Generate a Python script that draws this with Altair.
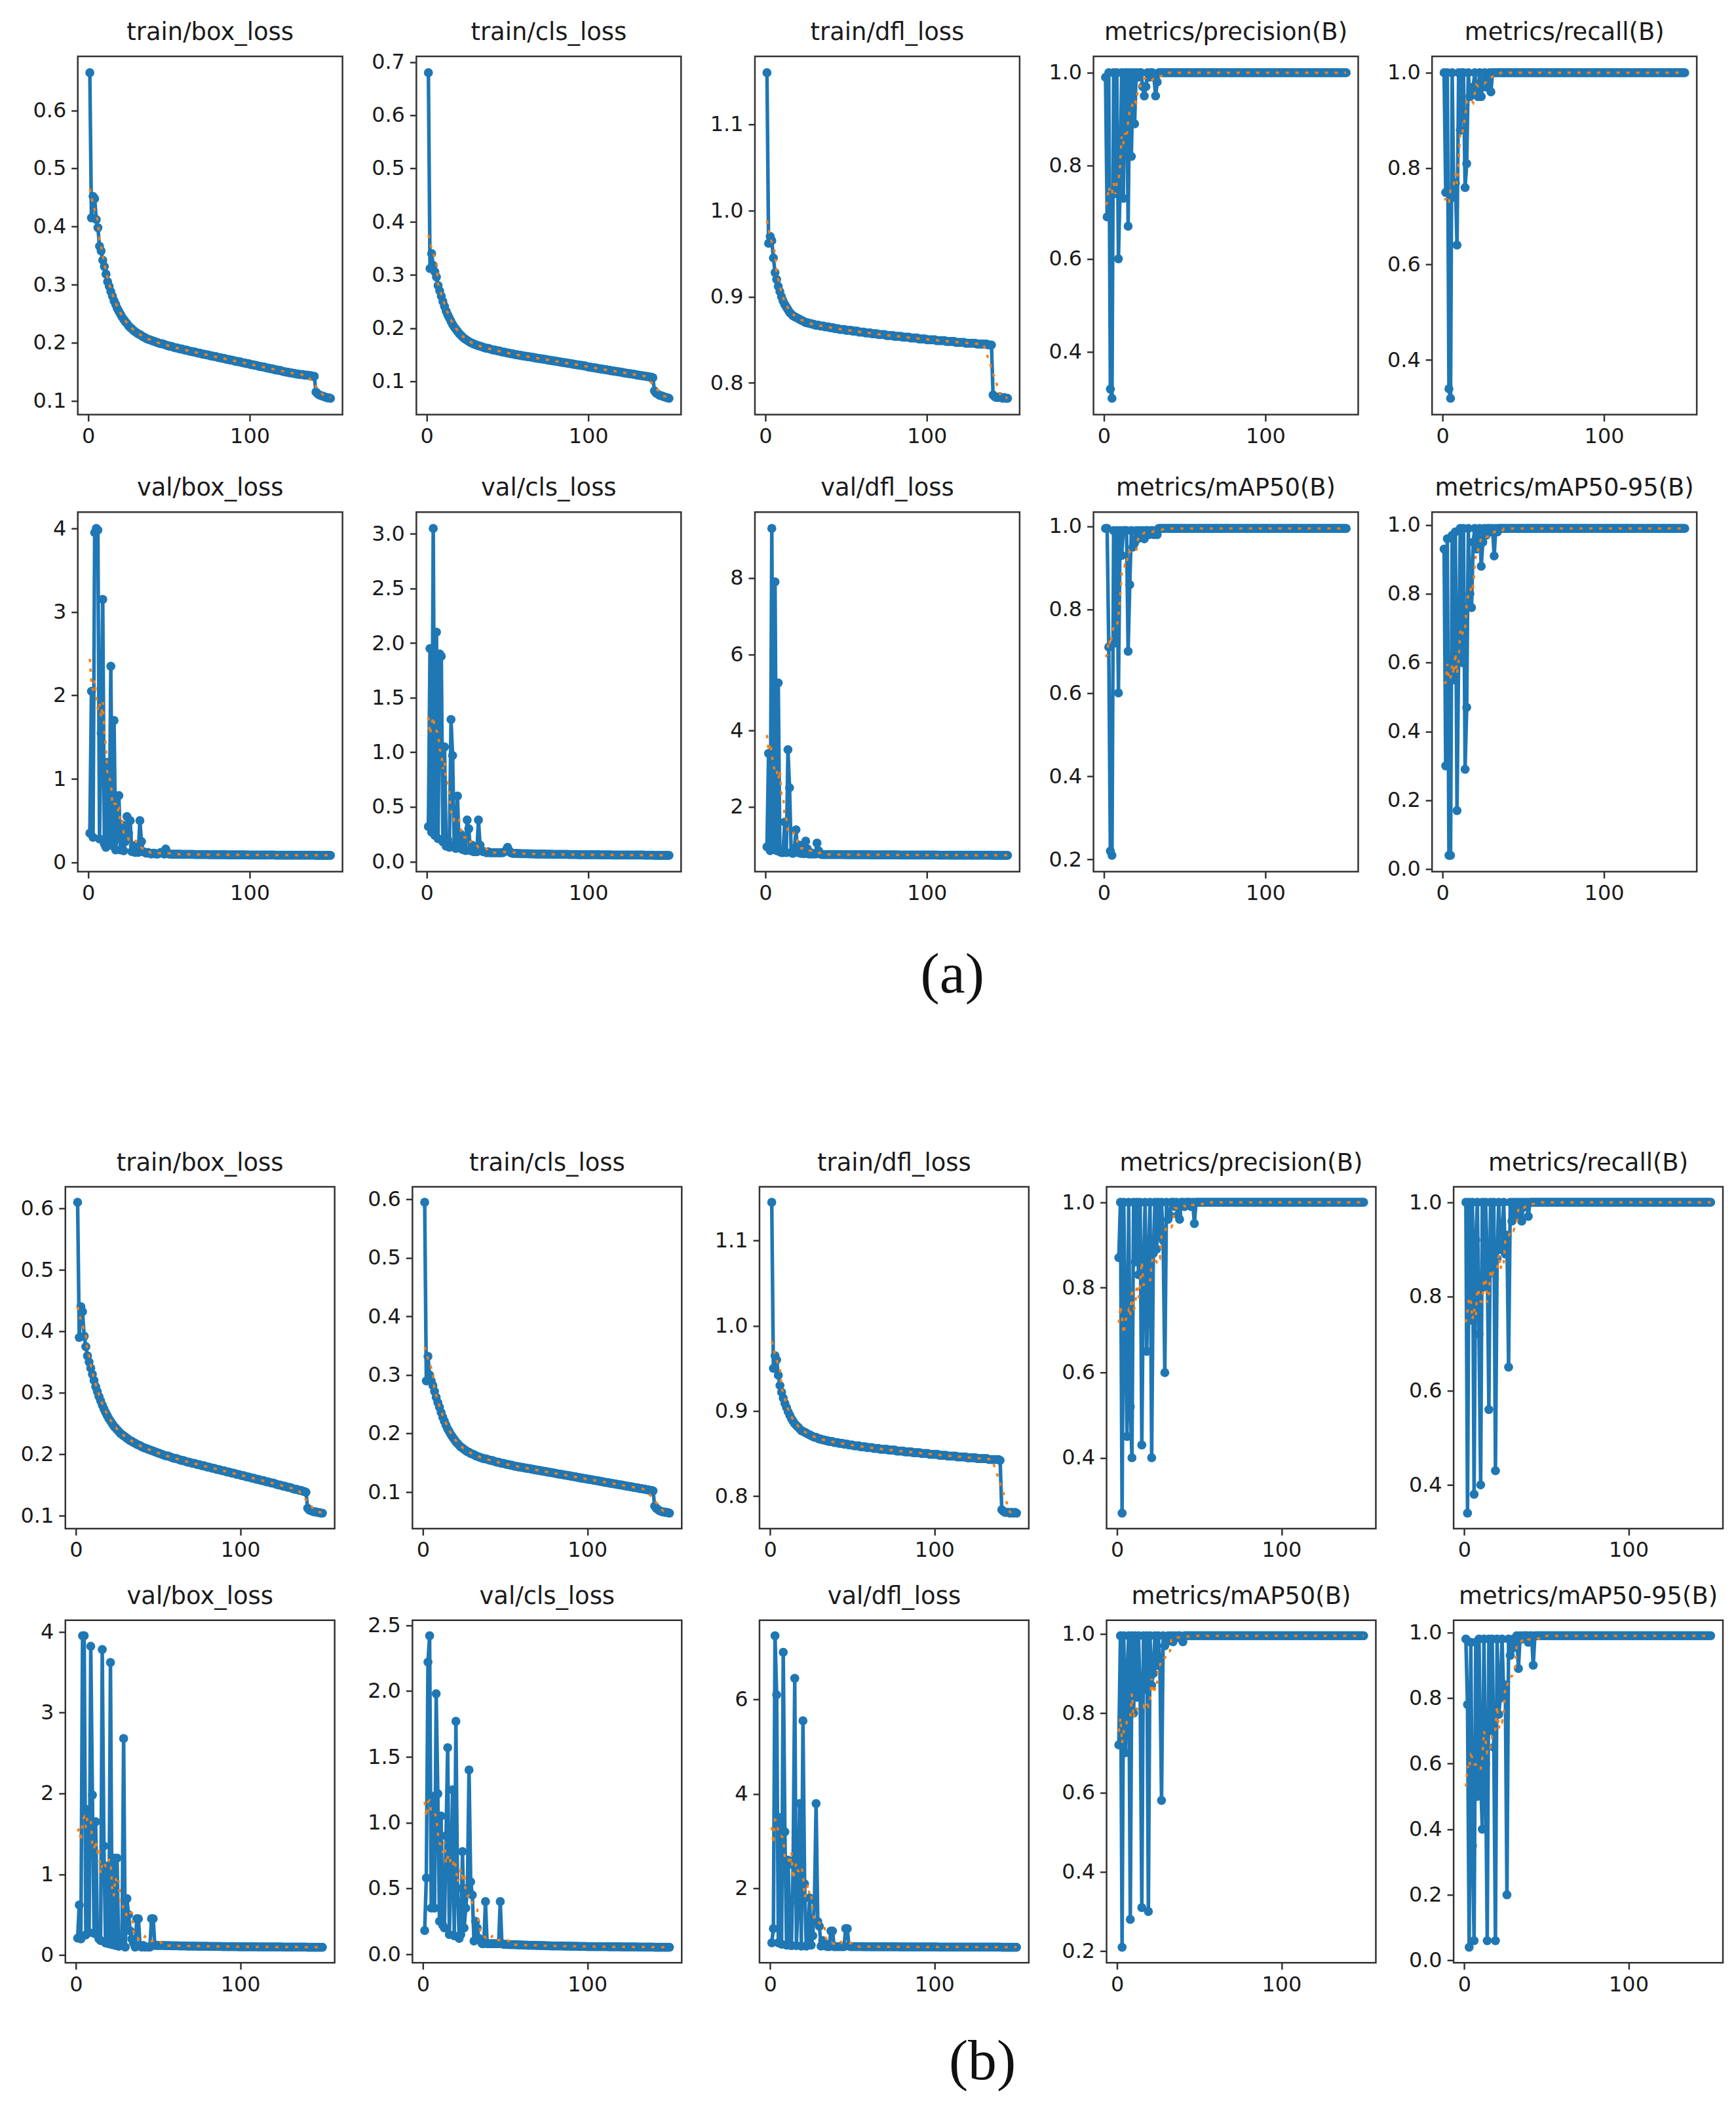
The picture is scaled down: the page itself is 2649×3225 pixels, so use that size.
import altair as alt
import pandas as pd

EPOCHS = list(range(1, 151))

# ---------------- group (a) ----------------
A_TRAIN_BOX = [
    0.665, 0.415, 0.452, 0.448, 0.412, 0.398, 0.366, 0.358, 0.342, 0.331,
    0.318, 0.305, 0.297, 0.288, 0.280, 0.272, 0.266, 0.259, 0.254, 0.249,
    0.244, 0.240, 0.236, 0.233, 0.229, 0.226, 0.224, 0.221, 0.219, 0.217,
    0.215, 0.214, 0.212, 0.210, 0.209, 0.207, 0.206, 0.205, 0.204, 0.203,
    0.202, 0.201, 0.200, 0.199, 0.198, 0.198, 0.197, 0.196, 0.195, 0.194,
    0.194, 0.193, 0.192, 0.191, 0.191, 0.190, 0.189, 0.189, 0.188, 0.187,
    0.187, 0.186, 0.185, 0.185, 0.184, 0.184, 0.183, 0.182, 0.182, 0.181,
    0.180, 0.180, 0.179, 0.179, 0.178, 0.177, 0.177, 0.176, 0.176, 0.175,
    0.174, 0.174, 0.173, 0.173, 0.172, 0.171, 0.171, 0.170, 0.170, 0.169,
    0.168, 0.168, 0.167, 0.167, 0.166, 0.165, 0.165, 0.164, 0.164, 0.163,
    0.162, 0.162, 0.161, 0.161, 0.160, 0.159, 0.159, 0.158, 0.158, 0.157,
    0.156, 0.156, 0.155, 0.155, 0.154, 0.153, 0.153, 0.152, 0.152, 0.151,
    0.150, 0.150, 0.149, 0.149, 0.148, 0.148, 0.147, 0.147, 0.146, 0.146,
    0.145, 0.145, 0.145, 0.144, 0.144, 0.144, 0.143, 0.143, 0.142, 0.142,
    0.115, 0.112, 0.110, 0.109, 0.108, 0.107, 0.106, 0.105, 0.105, 0.104,
]
A_TRAIN_CLS = [
    0.680, 0.312, 0.340, 0.318, 0.306, 0.296, 0.280, 0.270, 0.260, 0.250,
    0.241, 0.232, 0.225, 0.219, 0.213, 0.207, 0.202, 0.198, 0.194, 0.190,
    0.187, 0.184, 0.181, 0.179, 0.177, 0.175, 0.173, 0.172, 0.170, 0.169,
    0.168, 0.167, 0.166, 0.165, 0.164, 0.163, 0.162, 0.162, 0.161, 0.160,
    0.159, 0.159, 0.158, 0.157, 0.157, 0.156, 0.155, 0.155, 0.154, 0.153,
    0.153, 0.152, 0.152, 0.151, 0.150, 0.150, 0.149, 0.149, 0.148, 0.148,
    0.147, 0.147, 0.146, 0.146, 0.145, 0.145, 0.144, 0.144, 0.143, 0.143,
    0.142, 0.142, 0.141, 0.141, 0.140, 0.140, 0.139, 0.139, 0.138, 0.138,
    0.137, 0.137, 0.136, 0.136, 0.135, 0.135, 0.134, 0.134, 0.133, 0.133,
    0.132, 0.132, 0.131, 0.131, 0.130, 0.130, 0.129, 0.129, 0.128, 0.127,
    0.127, 0.126, 0.126, 0.125, 0.125, 0.124, 0.124, 0.123, 0.123, 0.122,
    0.122, 0.121, 0.121, 0.120, 0.120, 0.119, 0.119, 0.118, 0.118, 0.117,
    0.117, 0.116, 0.116, 0.115, 0.115, 0.114, 0.114, 0.113, 0.113, 0.112,
    0.112, 0.111, 0.111, 0.110, 0.110, 0.109, 0.109, 0.108, 0.108, 0.107,
    0.082, 0.078, 0.076, 0.074, 0.073, 0.072, 0.071, 0.070, 0.069, 0.068,
]
A_TRAIN_DFL = [
    1.160, 0.962, 0.970, 0.965, 0.945, 0.928, 0.920, 0.912, 0.906, 0.900,
    0.895, 0.891, 0.888, 0.885, 0.882, 0.880, 0.878, 0.877, 0.876, 0.875,
    0.874, 0.873, 0.872, 0.871, 0.870, 0.870, 0.869, 0.869, 0.868, 0.868,
    0.867, 0.867, 0.867, 0.866, 0.866, 0.866, 0.865, 0.865, 0.865, 0.864,
    0.864, 0.864, 0.863, 0.863, 0.863, 0.862, 0.862, 0.862, 0.862, 0.861,
    0.861, 0.861, 0.861, 0.860, 0.860, 0.860, 0.860, 0.859, 0.859, 0.859,
    0.859, 0.858, 0.858, 0.858, 0.858, 0.857, 0.857, 0.857, 0.857, 0.856,
    0.856, 0.856, 0.856, 0.856, 0.855, 0.855, 0.855, 0.855, 0.855, 0.854,
    0.854, 0.854, 0.854, 0.854, 0.853, 0.853, 0.853, 0.853, 0.853, 0.852,
    0.852, 0.852, 0.852, 0.852, 0.851, 0.851, 0.851, 0.851, 0.851, 0.850,
    0.850, 0.850, 0.850, 0.850, 0.850, 0.849, 0.849, 0.849, 0.849, 0.849,
    0.849, 0.848, 0.848, 0.848, 0.848, 0.848, 0.848, 0.847, 0.847, 0.847,
    0.847, 0.847, 0.847, 0.846, 0.846, 0.846, 0.846, 0.846, 0.846, 0.846,
    0.845, 0.845, 0.845, 0.845, 0.845, 0.845, 0.845, 0.844, 0.844, 0.844,
    0.786, 0.784, 0.783, 0.783, 0.784, 0.783, 0.782, 0.783, 0.782, 0.782,
]
A_PRECISION = [
    0.99, 0.69, 1.0, 0.32, 0.30, 1.0, 0.74, 1.0, 0.60, 0.75,
    1.0, 0.73, 1.0, 1.0, 0.67, 1.0, 0.82, 1.0, 0.89, 1.0,
    0.99, 1.0, 1.0, 0.97, 0.95, 0.97, 1.0, 0.99, 1.0, 1.0,
    0.99, 0.95, 0.98, 1.0, 1.0, 1.0, 1.0, 1.0, 1.0, 1.0,
    1.0, 1.0, 1.0, 1.0, 1.0, 1.0, 1.0, 1.0, 1.0, 1.0,
    1.0, 1.0, 1.0, 1.0, 1.0, 1.0, 1.0, 1.0, 1.0, 1.0,
    1.0, 1.0, 1.0, 1.0, 1.0, 1.0, 1.0, 1.0, 1.0, 1.0,
    1.0, 1.0, 1.0, 1.0, 1.0, 1.0, 1.0, 1.0, 1.0, 1.0,
    1.0, 1.0, 1.0, 1.0, 1.0, 1.0, 1.0, 1.0, 1.0, 1.0,
    1.0, 1.0, 1.0, 1.0, 1.0, 1.0, 1.0, 1.0, 1.0, 1.0,
    1.0, 1.0, 1.0, 1.0, 1.0, 1.0, 1.0, 1.0, 1.0, 1.0,
    1.0, 1.0, 1.0, 1.0, 1.0, 1.0, 1.0, 1.0, 1.0, 1.0,
    1.0, 1.0, 1.0, 1.0, 1.0, 1.0, 1.0, 1.0, 1.0, 1.0,
    1.0, 1.0, 1.0, 1.0, 1.0, 1.0, 1.0, 1.0, 1.0, 1.0,
    1.0, 1.0, 1.0, 1.0, 1.0, 1.0, 1.0, 1.0, 1.0, 1.0,
]
A_RECALL = [
    1.0, 0.75, 1.0, 0.34, 0.32, 1.0, 0.74, 0.77, 0.64, 1.0,
    0.88, 1.0, 1.0, 0.76, 0.81, 1.0, 0.95, 0.96, 0.97, 1.0,
    0.96, 0.95, 1.0, 0.95, 0.98, 1.0, 0.97, 0.98, 1.0, 0.96,
    1.0, 1.0, 1.0, 1.0, 1.0, 1.0, 1.0, 1.0, 1.0, 1.0,
    1.0, 1.0, 1.0, 1.0, 1.0, 1.0, 1.0, 1.0, 1.0, 1.0,
    1.0, 1.0, 1.0, 1.0, 1.0, 1.0, 1.0, 1.0, 1.0, 1.0,
    1.0, 1.0, 1.0, 1.0, 1.0, 1.0, 1.0, 1.0, 1.0, 1.0,
    1.0, 1.0, 1.0, 1.0, 1.0, 1.0, 1.0, 1.0, 1.0, 1.0,
    1.0, 1.0, 1.0, 1.0, 1.0, 1.0, 1.0, 1.0, 1.0, 1.0,
    1.0, 1.0, 1.0, 1.0, 1.0, 1.0, 1.0, 1.0, 1.0, 1.0,
    1.0, 1.0, 1.0, 1.0, 1.0, 1.0, 1.0, 1.0, 1.0, 1.0,
    1.0, 1.0, 1.0, 1.0, 1.0, 1.0, 1.0, 1.0, 1.0, 1.0,
    1.0, 1.0, 1.0, 1.0, 1.0, 1.0, 1.0, 1.0, 1.0, 1.0,
    1.0, 1.0, 1.0, 1.0, 1.0, 1.0, 1.0, 1.0, 1.0, 1.0,
    1.0, 1.0, 1.0, 1.0, 1.0, 1.0, 1.0, 1.0, 1.0, 1.0,
]
A_VAL_BOX = [
    0.35, 2.05, 0.30, 3.95, 4.00, 3.98, 0.28, 1.55, 3.15, 0.22,
    0.18, 1.20, 0.25, 2.35, 0.20, 1.70, 0.15, 0.30, 0.80, 0.15,
    0.45, 0.14, 0.25, 0.55, 0.35, 0.50, 0.13, 0.20, 0.12, 0.15,
    0.12, 0.50, 0.25, 0.13, 0.12, 0.11, 0.12, 0.11, 0.10, 0.11,
    0.11, 0.10, 0.10, 0.11, 0.12, 0.11, 0.10, 0.16, 0.11, 0.10,
    0.100, 0.099, 0.099, 0.099, 0.098, 0.098, 0.098, 0.097, 0.097, 0.097,
    0.097, 0.096, 0.096, 0.096, 0.096, 0.095, 0.095, 0.095, 0.095, 0.094,
    0.094, 0.094, 0.094, 0.094, 0.093, 0.093, 0.093, 0.093, 0.093, 0.092,
    0.092, 0.092, 0.092, 0.092, 0.092, 0.091, 0.091, 0.091, 0.091, 0.091,
    0.091, 0.090, 0.090, 0.090, 0.090, 0.090, 0.090, 0.090, 0.089, 0.089,
    0.089, 0.089, 0.089, 0.089, 0.089, 0.089, 0.088, 0.088, 0.088, 0.088,
    0.088, 0.088, 0.088, 0.088, 0.088, 0.087, 0.087, 0.087, 0.087, 0.087,
    0.087, 0.087, 0.087, 0.087, 0.087, 0.087, 0.086, 0.086, 0.086, 0.086,
    0.086, 0.086, 0.086, 0.086, 0.086, 0.086, 0.086, 0.086, 0.086, 0.086,
    0.085, 0.085, 0.085, 0.085, 0.085, 0.085, 0.085, 0.085, 0.085, 0.085,
]
A_VAL_CLS = [
    0.32, 1.95, 0.27, 3.05, 0.24, 2.10, 0.21, 1.90, 1.88, 0.18,
    1.05, 0.14, 0.20, 0.13, 1.30, 0.97, 0.15, 0.12, 0.60, 0.14,
    0.25, 0.11, 0.20, 0.10, 0.38, 0.30, 0.10, 0.15, 0.09, 0.10,
    0.09, 0.38, 0.15, 0.10, 0.09, 0.09, 0.08, 0.09, 0.08, 0.08,
    0.08, 0.08, 0.08, 0.08, 0.08, 0.08, 0.08, 0.09, 0.10, 0.13,
    0.100, 0.080, 0.075, 0.075, 0.074, 0.074, 0.073, 0.073, 0.072, 0.072,
    0.071, 0.071, 0.071, 0.070, 0.070, 0.070, 0.069, 0.069, 0.069, 0.068,
    0.068, 0.068, 0.068, 0.067, 0.067, 0.067, 0.067, 0.066, 0.066, 0.066,
    0.066, 0.066, 0.065, 0.065, 0.065, 0.065, 0.065, 0.064, 0.064, 0.064,
    0.064, 0.064, 0.064, 0.063, 0.063, 0.063, 0.063, 0.063, 0.063, 0.062,
    0.062, 0.062, 0.062, 0.062, 0.062, 0.062, 0.061, 0.061, 0.061, 0.061,
    0.061, 0.061, 0.061, 0.061, 0.060, 0.060, 0.060, 0.060, 0.060, 0.060,
    0.060, 0.060, 0.060, 0.059, 0.059, 0.059, 0.059, 0.059, 0.059, 0.059,
    0.059, 0.059, 0.059, 0.059, 0.058, 0.058, 0.058, 0.058, 0.058, 0.058,
    0.057, 0.057, 0.057, 0.057, 0.057, 0.057, 0.057, 0.057, 0.057, 0.057,
]
A_VAL_DFL = [
    0.95, 3.40, 0.85, 9.30, 0.90, 7.90, 0.85, 5.25, 0.82, 0.80,
    0.80, 1.60, 0.80, 3.50, 2.50, 0.80, 0.78, 0.90, 1.40, 0.80,
    1.00, 0.78, 0.85, 0.77, 1.10, 0.90, 0.76, 0.80, 0.76, 0.77,
    0.76, 1.05, 0.85, 0.76, 0.75, 0.75, 0.75, 0.75, 0.75, 0.75,
    0.750, 0.750, 0.749, 0.749, 0.748, 0.748, 0.748, 0.747, 0.747, 0.747,
    0.746, 0.746, 0.746, 0.745, 0.745, 0.745, 0.744, 0.744, 0.744, 0.744,
    0.743, 0.743, 0.743, 0.743, 0.742, 0.742, 0.742, 0.742, 0.741, 0.741,
    0.741, 0.741, 0.740, 0.740, 0.740, 0.740, 0.740, 0.739, 0.739, 0.739,
    0.739, 0.739, 0.738, 0.738, 0.738, 0.738, 0.738, 0.737, 0.737, 0.737,
    0.737, 0.737, 0.737, 0.736, 0.736, 0.736, 0.736, 0.736, 0.736, 0.735,
    0.735, 0.735, 0.735, 0.735, 0.735, 0.735, 0.734, 0.734, 0.734, 0.734,
    0.734, 0.734, 0.734, 0.734, 0.733, 0.733, 0.733, 0.733, 0.733, 0.733,
    0.733, 0.733, 0.733, 0.732, 0.732, 0.732, 0.732, 0.732, 0.732, 0.732,
    0.732, 0.732, 0.732, 0.732, 0.731, 0.731, 0.731, 0.731, 0.731, 0.731,
    0.729, 0.729, 0.729, 0.729, 0.729, 0.729, 0.729, 0.729, 0.729, 0.729,
]
A_MAP50 = [
    0.995, 0.995, 0.71, 0.22, 0.21, 0.99, 0.72, 0.99, 0.60, 0.99,
    0.93, 0.99, 0.99, 0.99, 0.70, 0.86, 0.99, 0.95, 0.96, 0.99,
    0.97, 0.99, 0.98, 0.99, 0.97, 0.99, 0.99, 0.98, 0.99, 0.99,
    0.98, 0.99, 0.98, 0.995, 0.995, 0.995, 0.995, 0.995, 0.995, 0.995,
    0.995, 0.995, 0.995, 0.995, 0.995, 0.995, 0.995, 0.995, 0.995, 0.995,
    0.995, 0.995, 0.995, 0.995, 0.995, 0.995, 0.995, 0.995, 0.995, 0.995,
    0.995, 0.995, 0.995, 0.995, 0.995, 0.995, 0.995, 0.995, 0.995, 0.995,
    0.995, 0.995, 0.995, 0.995, 0.995, 0.995, 0.995, 0.995, 0.995, 0.995,
    0.995, 0.995, 0.995, 0.995, 0.995, 0.995, 0.995, 0.995, 0.995, 0.995,
    0.995, 0.995, 0.995, 0.995, 0.995, 0.995, 0.995, 0.995, 0.995, 0.995,
    0.995, 0.995, 0.995, 0.995, 0.995, 0.995, 0.995, 0.995, 0.995, 0.995,
    0.995, 0.995, 0.995, 0.995, 0.995, 0.995, 0.995, 0.995, 0.995, 0.995,
    0.995, 0.995, 0.995, 0.995, 0.995, 0.995, 0.995, 0.995, 0.995, 0.995,
    0.995, 0.995, 0.995, 0.995, 0.995, 0.995, 0.995, 0.995, 0.995, 0.995,
    0.995, 0.995, 0.995, 0.995, 0.995, 0.995, 0.995, 0.995, 0.995, 0.995,
]
A_MAP5095 = [
    0.93, 0.30, 0.96, 0.04, 0.04, 0.97, 0.55, 0.98, 0.17, 0.62,
    0.99, 0.60, 0.99, 0.29, 0.47, 0.99, 0.80, 0.76, 0.95, 0.99,
    0.93, 0.98, 0.99, 0.88, 0.95, 0.99, 0.97, 0.99, 0.99, 0.98,
    0.99, 0.91, 0.99, 0.98, 0.99, 0.99, 0.99, 0.99, 0.99, 0.99,
    0.99, 0.99, 0.99, 0.99, 0.99, 0.99, 0.99, 0.99, 0.99, 0.99,
    0.99, 0.99, 0.99, 0.99, 0.99, 0.99, 0.99, 0.99, 0.99, 0.99,
    0.99, 0.99, 0.99, 0.99, 0.99, 0.99, 0.99, 0.99, 0.99, 0.99,
    0.99, 0.99, 0.99, 0.99, 0.99, 0.99, 0.99, 0.99, 0.99, 0.99,
    0.99, 0.99, 0.99, 0.99, 0.99, 0.99, 0.99, 0.99, 0.99, 0.99,
    0.99, 0.99, 0.99, 0.99, 0.99, 0.99, 0.99, 0.99, 0.99, 0.99,
    0.99, 0.99, 0.99, 0.99, 0.99, 0.99, 0.99, 0.99, 0.99, 0.99,
    0.99, 0.99, 0.99, 0.99, 0.99, 0.99, 0.99, 0.99, 0.99, 0.99,
    0.99, 0.99, 0.99, 0.99, 0.99, 0.99, 0.99, 0.99, 0.99, 0.99,
    0.99, 0.99, 0.99, 0.99, 0.99, 0.99, 0.99, 0.99, 0.99, 0.99,
    0.99, 0.99, 0.99, 0.99, 0.99, 0.99, 0.99, 0.99, 0.99, 0.99,
]

# ---------------- group (b) ----------------
B_TRAIN_BOX = [
    0.610, 0.390, 0.440, 0.432, 0.392, 0.375, 0.360, 0.350, 0.340, 0.330,
    0.320, 0.310, 0.302, 0.294, 0.287, 0.280, 0.274, 0.268, 0.263, 0.258,
    0.254, 0.250, 0.246, 0.243, 0.240, 0.237, 0.234, 0.232, 0.230, 0.228,
    0.226, 0.224, 0.222, 0.221, 0.219, 0.218, 0.216, 0.215, 0.214, 0.212,
    0.211, 0.210, 0.209, 0.208, 0.207, 0.206, 0.205, 0.204, 0.203, 0.202,
    0.201, 0.200, 0.199, 0.198, 0.197, 0.197, 0.196, 0.195, 0.194, 0.193,
    0.193, 0.192, 0.191, 0.190, 0.190, 0.189, 0.188, 0.187, 0.187, 0.186,
    0.185, 0.185, 0.184, 0.183, 0.183, 0.182, 0.181, 0.181, 0.180, 0.179,
    0.179, 0.178, 0.177, 0.177, 0.176, 0.175, 0.175, 0.174, 0.173, 0.173,
    0.172, 0.171, 0.171, 0.170, 0.169, 0.169, 0.168, 0.167, 0.167, 0.166,
    0.165, 0.165, 0.164, 0.163, 0.163, 0.162, 0.161, 0.161, 0.160, 0.159,
    0.159, 0.158, 0.157, 0.157, 0.156, 0.155, 0.155, 0.154, 0.153, 0.153,
    0.152, 0.151, 0.150, 0.150, 0.149, 0.148, 0.148, 0.147, 0.146, 0.146,
    0.145, 0.144, 0.143, 0.143, 0.142, 0.141, 0.141, 0.140, 0.139, 0.138,
    0.112, 0.109, 0.108, 0.107, 0.106, 0.106, 0.105, 0.105, 0.104, 0.104,
]
B_TRAIN_CLS = [
    0.595, 0.290, 0.332, 0.300, 0.290, 0.282, 0.272, 0.262, 0.253, 0.245,
    0.236, 0.228, 0.221, 0.214, 0.208, 0.203, 0.198, 0.194, 0.190, 0.186,
    0.183, 0.180, 0.177, 0.175, 0.173, 0.171, 0.169, 0.168, 0.166, 0.165,
    0.164, 0.162, 0.161, 0.160, 0.159, 0.158, 0.157, 0.157, 0.156, 0.155,
    0.154, 0.154, 0.153, 0.152, 0.151, 0.151, 0.150, 0.149, 0.149, 0.148,
    0.147, 0.147, 0.146, 0.146, 0.145, 0.144, 0.144, 0.143, 0.143, 0.142,
    0.142, 0.141, 0.141, 0.140, 0.140, 0.139, 0.139, 0.138, 0.138, 0.137,
    0.137, 0.136, 0.136, 0.135, 0.135, 0.134, 0.134, 0.133, 0.133, 0.132,
    0.132, 0.131, 0.131, 0.130, 0.130, 0.129, 0.129, 0.128, 0.128, 0.127,
    0.127, 0.126, 0.126, 0.125, 0.125, 0.124, 0.124, 0.123, 0.123, 0.122,
    0.122, 0.121, 0.121, 0.120, 0.120, 0.119, 0.119, 0.118, 0.118, 0.117,
    0.117, 0.116, 0.116, 0.115, 0.115, 0.114, 0.114, 0.113, 0.113, 0.112,
    0.112, 0.111, 0.111, 0.110, 0.110, 0.109, 0.109, 0.108, 0.108, 0.107,
    0.107, 0.106, 0.106, 0.105, 0.105, 0.104, 0.104, 0.103, 0.103, 0.102,
    0.076, 0.072, 0.070, 0.068, 0.067, 0.066, 0.066, 0.065, 0.065, 0.064,
]
B_TRAIN_DFL = [
    1.145, 0.950, 0.965, 0.960, 0.942, 0.930, 0.922, 0.915, 0.909, 0.904,
    0.899, 0.895, 0.891, 0.888, 0.885, 0.883, 0.881, 0.879, 0.877, 0.876,
    0.875, 0.874, 0.873, 0.872, 0.871, 0.870, 0.869, 0.869, 0.868, 0.867,
    0.867, 0.866, 0.866, 0.865, 0.865, 0.864, 0.864, 0.864, 0.863, 0.863,
    0.863, 0.862, 0.862, 0.862, 0.861, 0.861, 0.861, 0.860, 0.860, 0.860,
    0.859, 0.859, 0.859, 0.859, 0.858, 0.858, 0.858, 0.858, 0.857, 0.857,
    0.857, 0.857, 0.856, 0.856, 0.856, 0.856, 0.855, 0.855, 0.855, 0.855,
    0.855, 0.854, 0.854, 0.854, 0.854, 0.854, 0.853, 0.853, 0.853, 0.853,
    0.853, 0.852, 0.852, 0.852, 0.852, 0.852, 0.851, 0.851, 0.851, 0.851,
    0.851, 0.850, 0.850, 0.850, 0.850, 0.850, 0.849, 0.849, 0.849, 0.849,
    0.849, 0.849, 0.848, 0.848, 0.848, 0.848, 0.848, 0.847, 0.847, 0.847,
    0.847, 0.847, 0.847, 0.846, 0.846, 0.846, 0.846, 0.846, 0.846, 0.845,
    0.845, 0.845, 0.845, 0.845, 0.845, 0.844, 0.844, 0.844, 0.844, 0.844,
    0.844, 0.844, 0.843, 0.843, 0.843, 0.843, 0.843, 0.843, 0.843, 0.842,
    0.784, 0.782, 0.781, 0.781, 0.781, 0.780, 0.781, 0.780, 0.781, 0.780,
]
B_PRECISION = [
    0.87, 1.0, 0.27, 1.0, 0.71, 0.45, 1.0, 0.52, 0.40, 1.0,
    0.86, 1.0, 0.83, 1.0, 0.43, 0.84, 1.0, 0.65, 0.86, 1.0,
    0.40, 0.88, 1.0, 0.89, 1.0, 0.92, 1.0, 0.91, 0.60, 1.0,
    0.96, 0.97, 1.0, 1.0, 0.99, 1.0, 0.97, 0.96, 1.0, 1.0,
    0.99, 1.0, 1.0, 1.0, 0.99, 1.0, 0.95, 1.0, 1.0, 1.0,
    1.0, 1.0, 1.0, 1.0, 1.0, 1.0, 1.0, 1.0, 1.0, 1.0,
    1.0, 1.0, 1.0, 1.0, 1.0, 1.0, 1.0, 1.0, 1.0, 1.0,
    1.0, 1.0, 1.0, 1.0, 1.0, 1.0, 1.0, 1.0, 1.0, 1.0,
    1.0, 1.0, 1.0, 1.0, 1.0, 1.0, 1.0, 1.0, 1.0, 1.0,
    1.0, 1.0, 1.0, 1.0, 1.0, 1.0, 1.0, 1.0, 1.0, 1.0,
    1.0, 1.0, 1.0, 1.0, 1.0, 1.0, 1.0, 1.0, 1.0, 1.0,
    1.0, 1.0, 1.0, 1.0, 1.0, 1.0, 1.0, 1.0, 1.0, 1.0,
    1.0, 1.0, 1.0, 1.0, 1.0, 1.0, 1.0, 1.0, 1.0, 1.0,
    1.0, 1.0, 1.0, 1.0, 1.0, 1.0, 1.0, 1.0, 1.0, 1.0,
    1.0, 1.0, 1.0, 1.0, 1.0, 1.0, 1.0, 1.0, 1.0, 1.0,
]
B_RECALL = [
    1.0, 0.34, 1.0, 0.75, 1.0, 0.38, 0.92, 1.0, 0.72, 0.40,
    1.0, 0.82, 1.0, 0.88, 0.56, 1.0, 0.85, 1.0, 0.43, 0.88,
    1.0, 0.90, 0.91, 1.0, 0.89, 0.93, 0.65, 1.0, 0.96, 1.0,
    0.98, 1.0, 0.97, 1.0, 0.96, 1.0, 0.99, 1.0, 0.97, 1.0,
    1.0, 1.0, 1.0, 1.0, 1.0, 1.0, 1.0, 1.0, 1.0, 1.0,
    1.0, 1.0, 1.0, 1.0, 1.0, 1.0, 1.0, 1.0, 1.0, 1.0,
    1.0, 1.0, 1.0, 1.0, 1.0, 1.0, 1.0, 1.0, 1.0, 1.0,
    1.0, 1.0, 1.0, 1.0, 1.0, 1.0, 1.0, 1.0, 1.0, 1.0,
    1.0, 1.0, 1.0, 1.0, 1.0, 1.0, 1.0, 1.0, 1.0, 1.0,
    1.0, 1.0, 1.0, 1.0, 1.0, 1.0, 1.0, 1.0, 1.0, 1.0,
    1.0, 1.0, 1.0, 1.0, 1.0, 1.0, 1.0, 1.0, 1.0, 1.0,
    1.0, 1.0, 1.0, 1.0, 1.0, 1.0, 1.0, 1.0, 1.0, 1.0,
    1.0, 1.0, 1.0, 1.0, 1.0, 1.0, 1.0, 1.0, 1.0, 1.0,
    1.0, 1.0, 1.0, 1.0, 1.0, 1.0, 1.0, 1.0, 1.0, 1.0,
    1.0, 1.0, 1.0, 1.0, 1.0, 1.0, 1.0, 1.0, 1.0, 1.0,
]
B_VAL_BOX = [
    0.21, 0.62, 0.20, 3.95, 3.95, 0.25, 1.80, 0.28, 3.82, 1.98,
    0.27, 1.65, 0.25, 0.20, 0.18, 3.78, 1.35, 0.15, 1.10, 0.14,
    3.62, 0.13, 1.20, 0.12, 1.20, 0.11, 0.15, 0.12, 2.68, 0.10,
    0.70, 0.50, 0.30, 0.20, 0.15, 0.10, 0.45, 0.45, 0.12, 0.10,
    0.12, 0.10, 0.10, 0.10, 0.10, 0.45, 0.45, 0.12, 0.12, 0.12,
    0.120, 0.119, 0.119, 0.118, 0.118, 0.117, 0.117, 0.116, 0.116, 0.115,
    0.115, 0.115, 0.114, 0.114, 0.113, 0.113, 0.113, 0.112, 0.112, 0.112,
    0.111, 0.111, 0.111, 0.110, 0.110, 0.110, 0.109, 0.109, 0.109, 0.109,
    0.108, 0.108, 0.108, 0.108, 0.107, 0.107, 0.107, 0.107, 0.106, 0.106,
    0.106, 0.106, 0.106, 0.105, 0.105, 0.105, 0.105, 0.105, 0.104, 0.104,
    0.104, 0.104, 0.104, 0.104, 0.103, 0.103, 0.103, 0.103, 0.103, 0.103,
    0.102, 0.102, 0.102, 0.102, 0.102, 0.102, 0.102, 0.101, 0.101, 0.101,
    0.101, 0.101, 0.101, 0.101, 0.101, 0.100, 0.100, 0.100, 0.100, 0.100,
    0.100, 0.100, 0.100, 0.100, 0.100, 0.099, 0.099, 0.099, 0.099, 0.099,
    0.098, 0.098, 0.098, 0.098, 0.098, 0.098, 0.098, 0.098, 0.098, 0.098,
]
B_VAL_CLS = [
    0.18, 0.58, 2.22, 2.42, 0.35, 1.20, 0.35, 1.98, 1.22, 0.25,
    1.05, 0.22, 0.20, 0.90, 1.57, 0.15, 0.60, 1.25, 0.14, 1.77,
    0.50, 0.12, 0.15, 0.78, 0.20, 0.35, 0.50, 1.40, 0.55, 0.45,
    0.10, 0.25, 0.20, 0.12, 0.10, 0.08, 0.08, 0.40, 0.08, 0.08,
    0.08, 0.08, 0.08, 0.08, 0.08, 0.08, 0.40, 0.08, 0.075, 0.075,
    0.074, 0.074, 0.073, 0.073, 0.072, 0.072, 0.071, 0.071, 0.070, 0.070,
    0.069, 0.069, 0.069, 0.068, 0.068, 0.067, 0.067, 0.067, 0.066, 0.066,
    0.066, 0.065, 0.065, 0.065, 0.064, 0.064, 0.064, 0.063, 0.063, 0.063,
    0.063, 0.062, 0.062, 0.062, 0.062, 0.061, 0.061, 0.061, 0.061, 0.060,
    0.060, 0.060, 0.060, 0.060, 0.059, 0.059, 0.059, 0.059, 0.059, 0.058,
    0.058, 0.058, 0.058, 0.058, 0.058, 0.057, 0.057, 0.057, 0.057, 0.057,
    0.057, 0.057, 0.056, 0.056, 0.056, 0.056, 0.056, 0.056, 0.056, 0.056,
    0.055, 0.055, 0.055, 0.055, 0.055, 0.055, 0.055, 0.055, 0.055, 0.055,
    0.054, 0.054, 0.054, 0.054, 0.054, 0.054, 0.054, 0.054, 0.054, 0.054,
    0.053, 0.053, 0.053, 0.053, 0.053, 0.053, 0.053, 0.053, 0.053, 0.053,
]
B_VAL_DFL = [
    0.85, 1.15, 7.35, 6.10, 0.85, 3.50, 0.82, 7.00, 3.20, 0.80,
    2.60, 0.80, 0.79, 2.50, 6.45, 0.79, 1.70, 3.80, 0.78, 5.55,
    2.10, 0.78, 0.80, 1.80, 0.80, 1.00, 1.75, 3.80, 1.30, 1.20,
    0.78, 0.90, 0.85, 0.78, 0.77, 0.77, 1.10, 1.10, 0.77, 0.77,
    0.77, 0.77, 0.77, 0.77, 0.77, 1.15, 1.15, 0.78, 0.77, 0.77,
    0.770, 0.770, 0.769, 0.769, 0.769, 0.769, 0.768, 0.768, 0.768, 0.768,
    0.768, 0.767, 0.767, 0.767, 0.767, 0.767, 0.766, 0.766, 0.766, 0.766,
    0.766, 0.766, 0.765, 0.765, 0.765, 0.765, 0.765, 0.765, 0.764, 0.764,
    0.764, 0.764, 0.764, 0.764, 0.764, 0.763, 0.763, 0.763, 0.763, 0.763,
    0.763, 0.763, 0.763, 0.762, 0.762, 0.762, 0.762, 0.762, 0.762, 0.762,
    0.762, 0.762, 0.761, 0.761, 0.761, 0.761, 0.761, 0.761, 0.761, 0.761,
    0.761, 0.761, 0.761, 0.760, 0.760, 0.760, 0.760, 0.760, 0.760, 0.760,
    0.760, 0.760, 0.760, 0.760, 0.760, 0.759, 0.759, 0.759, 0.759, 0.759,
    0.759, 0.759, 0.759, 0.759, 0.759, 0.759, 0.759, 0.759, 0.759, 0.759,
    0.757, 0.757, 0.757, 0.757, 0.757, 0.757, 0.757, 0.757, 0.757, 0.757,
]
B_MAP50 = [
    0.72, 0.995, 0.21, 0.995, 0.70, 0.90, 0.995, 0.28, 0.995, 0.80,
    0.995, 0.84, 0.995, 0.85, 0.31, 0.995, 0.86, 0.995, 0.30, 0.995,
    0.87, 0.90, 0.995, 0.92, 0.995, 0.93, 0.58, 0.995, 0.97, 0.98,
    0.995, 0.99, 0.995, 0.98, 0.995, 0.99, 0.995, 0.995, 0.99, 0.98,
    0.995, 0.995, 0.995, 0.995, 0.995, 0.995, 0.995, 0.995, 0.995, 0.995,
    0.995, 0.995, 0.995, 0.995, 0.995, 0.995, 0.995, 0.995, 0.995, 0.995,
    0.995, 0.995, 0.995, 0.995, 0.995, 0.995, 0.995, 0.995, 0.995, 0.995,
    0.995, 0.995, 0.995, 0.995, 0.995, 0.995, 0.995, 0.995, 0.995, 0.995,
    0.995, 0.995, 0.995, 0.995, 0.995, 0.995, 0.995, 0.995, 0.995, 0.995,
    0.995, 0.995, 0.995, 0.995, 0.995, 0.995, 0.995, 0.995, 0.995, 0.995,
    0.995, 0.995, 0.995, 0.995, 0.995, 0.995, 0.995, 0.995, 0.995, 0.995,
    0.995, 0.995, 0.995, 0.995, 0.995, 0.995, 0.995, 0.995, 0.995, 0.995,
    0.995, 0.995, 0.995, 0.995, 0.995, 0.995, 0.995, 0.995, 0.995, 0.995,
    0.995, 0.995, 0.995, 0.995, 0.995, 0.995, 0.995, 0.995, 0.995, 0.995,
    0.995, 0.995, 0.995, 0.995, 0.995, 0.995, 0.995, 0.995, 0.995, 0.995,
]
B_MAP5095 = [
    0.98, 0.78, 0.04, 0.97, 0.35, 0.06, 0.97, 0.50, 0.98, 0.55,
    0.40, 0.98, 0.60, 0.06, 0.98, 0.70, 0.98, 0.65, 0.06, 0.98,
    0.75, 0.80, 0.98, 0.82, 0.84, 0.20, 0.98, 0.93, 0.95, 0.98,
    0.96, 0.99, 0.89, 0.99, 0.98, 0.99, 0.99, 0.99, 0.97, 0.99,
    0.99, 0.90, 0.99, 0.99, 0.99, 0.99, 0.99, 0.99, 0.99, 0.99,
    0.99, 0.99, 0.99, 0.99, 0.99, 0.99, 0.99, 0.99, 0.99, 0.99,
    0.99, 0.99, 0.99, 0.99, 0.99, 0.99, 0.99, 0.99, 0.99, 0.99,
    0.99, 0.99, 0.99, 0.99, 0.99, 0.99, 0.99, 0.99, 0.99, 0.99,
    0.99, 0.99, 0.99, 0.99, 0.99, 0.99, 0.99, 0.99, 0.99, 0.99,
    0.99, 0.99, 0.99, 0.99, 0.99, 0.99, 0.99, 0.99, 0.99, 0.99,
    0.99, 0.99, 0.99, 0.99, 0.99, 0.99, 0.99, 0.99, 0.99, 0.99,
    0.99, 0.99, 0.99, 0.99, 0.99, 0.99, 0.99, 0.99, 0.99, 0.99,
    0.99, 0.99, 0.99, 0.99, 0.99, 0.99, 0.99, 0.99, 0.99, 0.99,
    0.99, 0.99, 0.99, 0.99, 0.99, 0.99, 0.99, 0.99, 0.99, 0.99,
    0.99, 0.99, 0.99, 0.99, 0.99, 0.99, 0.99, 0.99, 0.99, 0.99,
]

# tick labels
X_TICKS = [0, 100]
T_BOX_A = [0.1, 0.2, 0.3, 0.4, 0.5, 0.6]
T_CLS_A = [0.1, 0.2, 0.3, 0.4, 0.5, 0.6, 0.7]
T_DFL = [0.8, 0.9, 1.0, 1.1]
T_PR = [0.4, 0.6, 0.8, 1.0]
T_VBOX = [0, 1, 2, 3, 4]
T_VCLS_A = [0.0, 0.5, 1.0, 1.5, 2.0, 2.5, 3.0]
T_VDFL_A = [2, 4, 6, 8]
T_MAP50 = [0.2, 0.4, 0.6, 0.8, 1.0]
T_MAP5095 = [0.0, 0.2, 0.4, 0.6, 0.8, 1.0]
T_BOX_B = [0.1, 0.2, 0.3, 0.4, 0.5, 0.6]
T_CLS_B = [0.1, 0.2, 0.3, 0.4, 0.5, 0.6]
T_VCLS_B = [0.0, 0.5, 1.0, 1.5, 2.0, 2.5]
T_VDFL_B = [2, 4, 6]

ROW_A1 = [
    ("train/box_loss", A_TRAIN_BOX, T_BOX_A, ".1f"),
    ("train/cls_loss", A_TRAIN_CLS, T_CLS_A, ".1f"),
    ("train/dfl_loss", A_TRAIN_DFL, T_DFL, ".1f"),
    ("metrics/precision(B)", A_PRECISION, T_PR, ".1f"),
    ("metrics/recall(B)", A_RECALL, T_PR, ".1f"),
]
ROW_A2 = [
    ("val/box_loss", A_VAL_BOX, T_VBOX, "d"),
    ("val/cls_loss", A_VAL_CLS, T_VCLS_A, ".1f"),
    ("val/dfl_loss", A_VAL_DFL, T_VDFL_A, "d"),
    ("metrics/mAP50(B)", A_MAP50, T_MAP50, ".1f"),
    ("metrics/mAP50-95(B)", A_MAP5095, T_MAP5095, ".1f"),
]
ROW_B1 = [
    ("train/box_loss", B_TRAIN_BOX, T_BOX_B, ".1f"),
    ("train/cls_loss", B_TRAIN_CLS, T_CLS_B, ".1f"),
    ("train/dfl_loss", B_TRAIN_DFL, T_DFL, ".1f"),
    ("metrics/precision(B)", B_PRECISION, T_PR, ".1f"),
    ("metrics/recall(B)", B_RECALL, T_PR, ".1f"),
]
ROW_B2 = [
    ("val/box_loss", B_VAL_BOX, T_VBOX, "d"),
    ("val/cls_loss", B_VAL_CLS, T_VCLS_B, ".1f"),
    ("val/dfl_loss", B_VAL_DFL, T_VDFL_B, "d"),
    ("metrics/mAP50(B)", B_MAP50, T_MAP50, ".1f"),
    ("metrics/mAP50-95(B)", B_MAP5095, T_MAP5095, ".1f"),
]

for r in (ROW_A1, ROW_A2, ROW_B1, ROW_B2):
    for name, vals, _, _ in r:
        if len(vals) != len(EPOCHS):
            raise ValueError(f"{name}: {len(vals)} values")

BLUE = "#1f77b4"
ORANGE = "#ff7f0e"
FONT = "DejaVu Sans"
TITLE_BASELINE = -25   # px above the plot frame, like matplotlib's title pad


def panel(title, values, yticks, fmt, w, h):
    lo, hi = min(values), max(values)
    m = 0.05 * (hi - lo)
    df = pd.DataFrame({"epoch": EPOCHS, "value": values})
    xenc = alt.X(
        "epoch:Q",
        scale=alt.Scale(domain=[-6.45, 157.45], nice=False, zero=False),
        axis=alt.Axis(values=X_TICKS, format="d", title=None),
    )
    yscale = alt.Scale(domain=[lo - m, hi + m], nice=False, zero=False)
    yaxis = alt.Axis(values=yticks, format=fmt, title=None)
    base = alt.Chart(df).transform_window(
        smooth="mean(value)", frame=[-5, 5], sort=[alt.SortField("epoch")]
    )
    line = base.mark_line(color=BLUE, strokeWidth=5.5, strokeJoin="round").encode(
        x=xenc, y=alt.Y("value:Q", scale=yscale, axis=yaxis)
    )
    pts = base.mark_point(shape="circle", filled=True, size=190, color=BLUE, opacity=1).encode(
        x=xenc, y=alt.Y("value:Q", scale=yscale, axis=yaxis)
    )
    smooth = base.mark_line(color=ORANGE, strokeWidth=3.5, strokeDash=[5, 10]).encode(
        x=xenc, y=alt.Y("smooth:Q", scale=yscale, axis=yaxis)
    )
    ttl = alt.Chart(pd.DataFrame({"t": [title]})).mark_text(
        font=FONT, fontSize=37, color="#1a1a1a", align="center", baseline="alphabetic"
    ).encode(text="t:N", x=alt.value(w / 2), y=alt.value(TITLE_BASELINE))
    return alt.layer(line, pts, smooth, ttl).properties(width=w, height=h)


def blank(w, h):
    return alt.Chart(pd.DataFrame({"t": [""]})).mark_text().encode(
        text="t:N"
    ).properties(width=w, height=h, view=alt.ViewBackground(strokeOpacity=0))


def label(txt, h, cx, cy):
    return alt.Chart(pd.DataFrame({"t": [txt]})).mark_text(
        font="Liberation Serif", fontSize=88, color="#111111",
        align="center", baseline="middle",
    ).encode(
        text="t:N", x=alt.value(cx), y=alt.value(cy)
    ).properties(width=1, height=h, view=alt.ViewBackground(strokeOpacity=0))


def panel_row(specs, lead, w, h, gap):
    cells = [blank(lead, 1)]
    for i, (t, v, tk, f) in enumerate(specs):
        if i > 0:
            cells.append(blank(gap, 1))
        cells.append(panel(t, v, tk, f, w, h))
    return cells


def group(rows, row_gap):
    cells = []
    for r in rows:
        cells += r
    return alt.concat(
        *cells,
        columns=10,
        spacing={"row": row_gap, "column": 0},
        bounds="flush",
        align="each",
    )


group_a = group(
    [panel_row(ROW_A1, 20, 405, 548, 112.5), panel_row(ROW_A2, 20, 405, 550, 112.5)],
    149,
)
group_b = group(
    [panel_row(ROW_B1, 1, 412, 523, 119), panel_row(ROW_B2, 1, 412, 524, 119)],
    140,
)

chart = alt.vconcat(
    group_a,
    label("(a)", 374, 1358, 108),
    group_b,
    label("(b)", 150, 1404, 101),
    spacing=0,
).properties(
    padding={"left": 21, "top": 17, "right": 10, "bottom": 5}
).configure_view(
    stroke="#333333", strokeWidth=2.5
).configure_axis(
    labelFont=FONT, labelFontSize=32, labelColor="#1a1a1a",
    tickColor="#333333", tickSize=10, tickWidth=2.5,
    domain=False, grid=False, labelPadding=8, labelFlush=False,
)

chart.save("out.html", embed_options={"renderer": "svg", "actions": False})
